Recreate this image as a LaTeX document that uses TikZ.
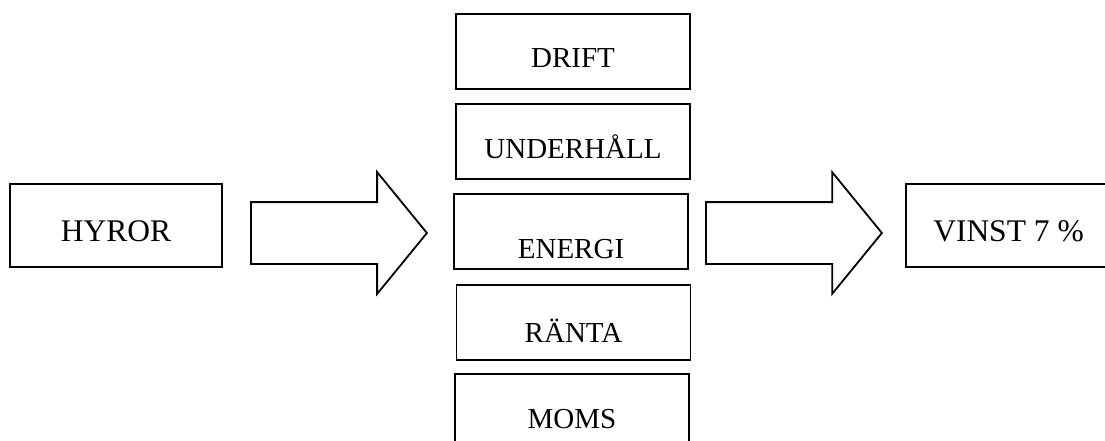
\documentclass[tikz,border=0pt]{standalone}
\usepackage{fontspec}
\setmainfont{Liberation Serif}
\usetikzlibrary{shapes.arrows}
\tikzset{
  post/.style={draw, line width=1.8pt, minimum width=234pt, minimum height=75pt,
    inner sep=0pt, text height=33pt, text depth=0pt,
    font=\fontsize{29}{34}\selectfont},
  endpost/.style={post, minimum height=83pt, text height=31pt,
    font=\fontsize{31.5}{36}\selectfont},
  flow/.style={single arrow, draw, line width=1.8pt, minimum height=176pt,
    inner xsep=0pt, inner ysep=30pt, single arrow head extend=30pt,
    single arrow tip angle=101.5, anchor=tail}
}
\begin{document}
\begin{tikzpicture}[x=1pt, y=-1pt]
      \useasboundingbox (0,0) rectangle (1105,441);
      % income
      \node[endpost, minimum width=212pt] (hyror) at (116,225.5) {HYROR};
      % costs
      \node[post] (drift) at (573,51.5) {DRIFT};
      \node[post] (underhall) at (573,141.5) {UNDERHÅLL};
      \node[post, text height=53pt] (energi) at (571,231.5) {ENERGI};
      \node[post, text height=39pt] (ranta) at (573.5,322.5) {RÄNTA};
      \node[post] (moms) at (572,411.5) {MOMS};
      % result
      \node[endpost, minimum width=205pt] (vinst) at (1008.5,225.5) {VINST 7 \%};
      % block arrows
      \node[flow] (inflow) at (250,233) {};
      \node[flow] (outflow) at (705,233) {};
    \end{tikzpicture}
\end{document}
